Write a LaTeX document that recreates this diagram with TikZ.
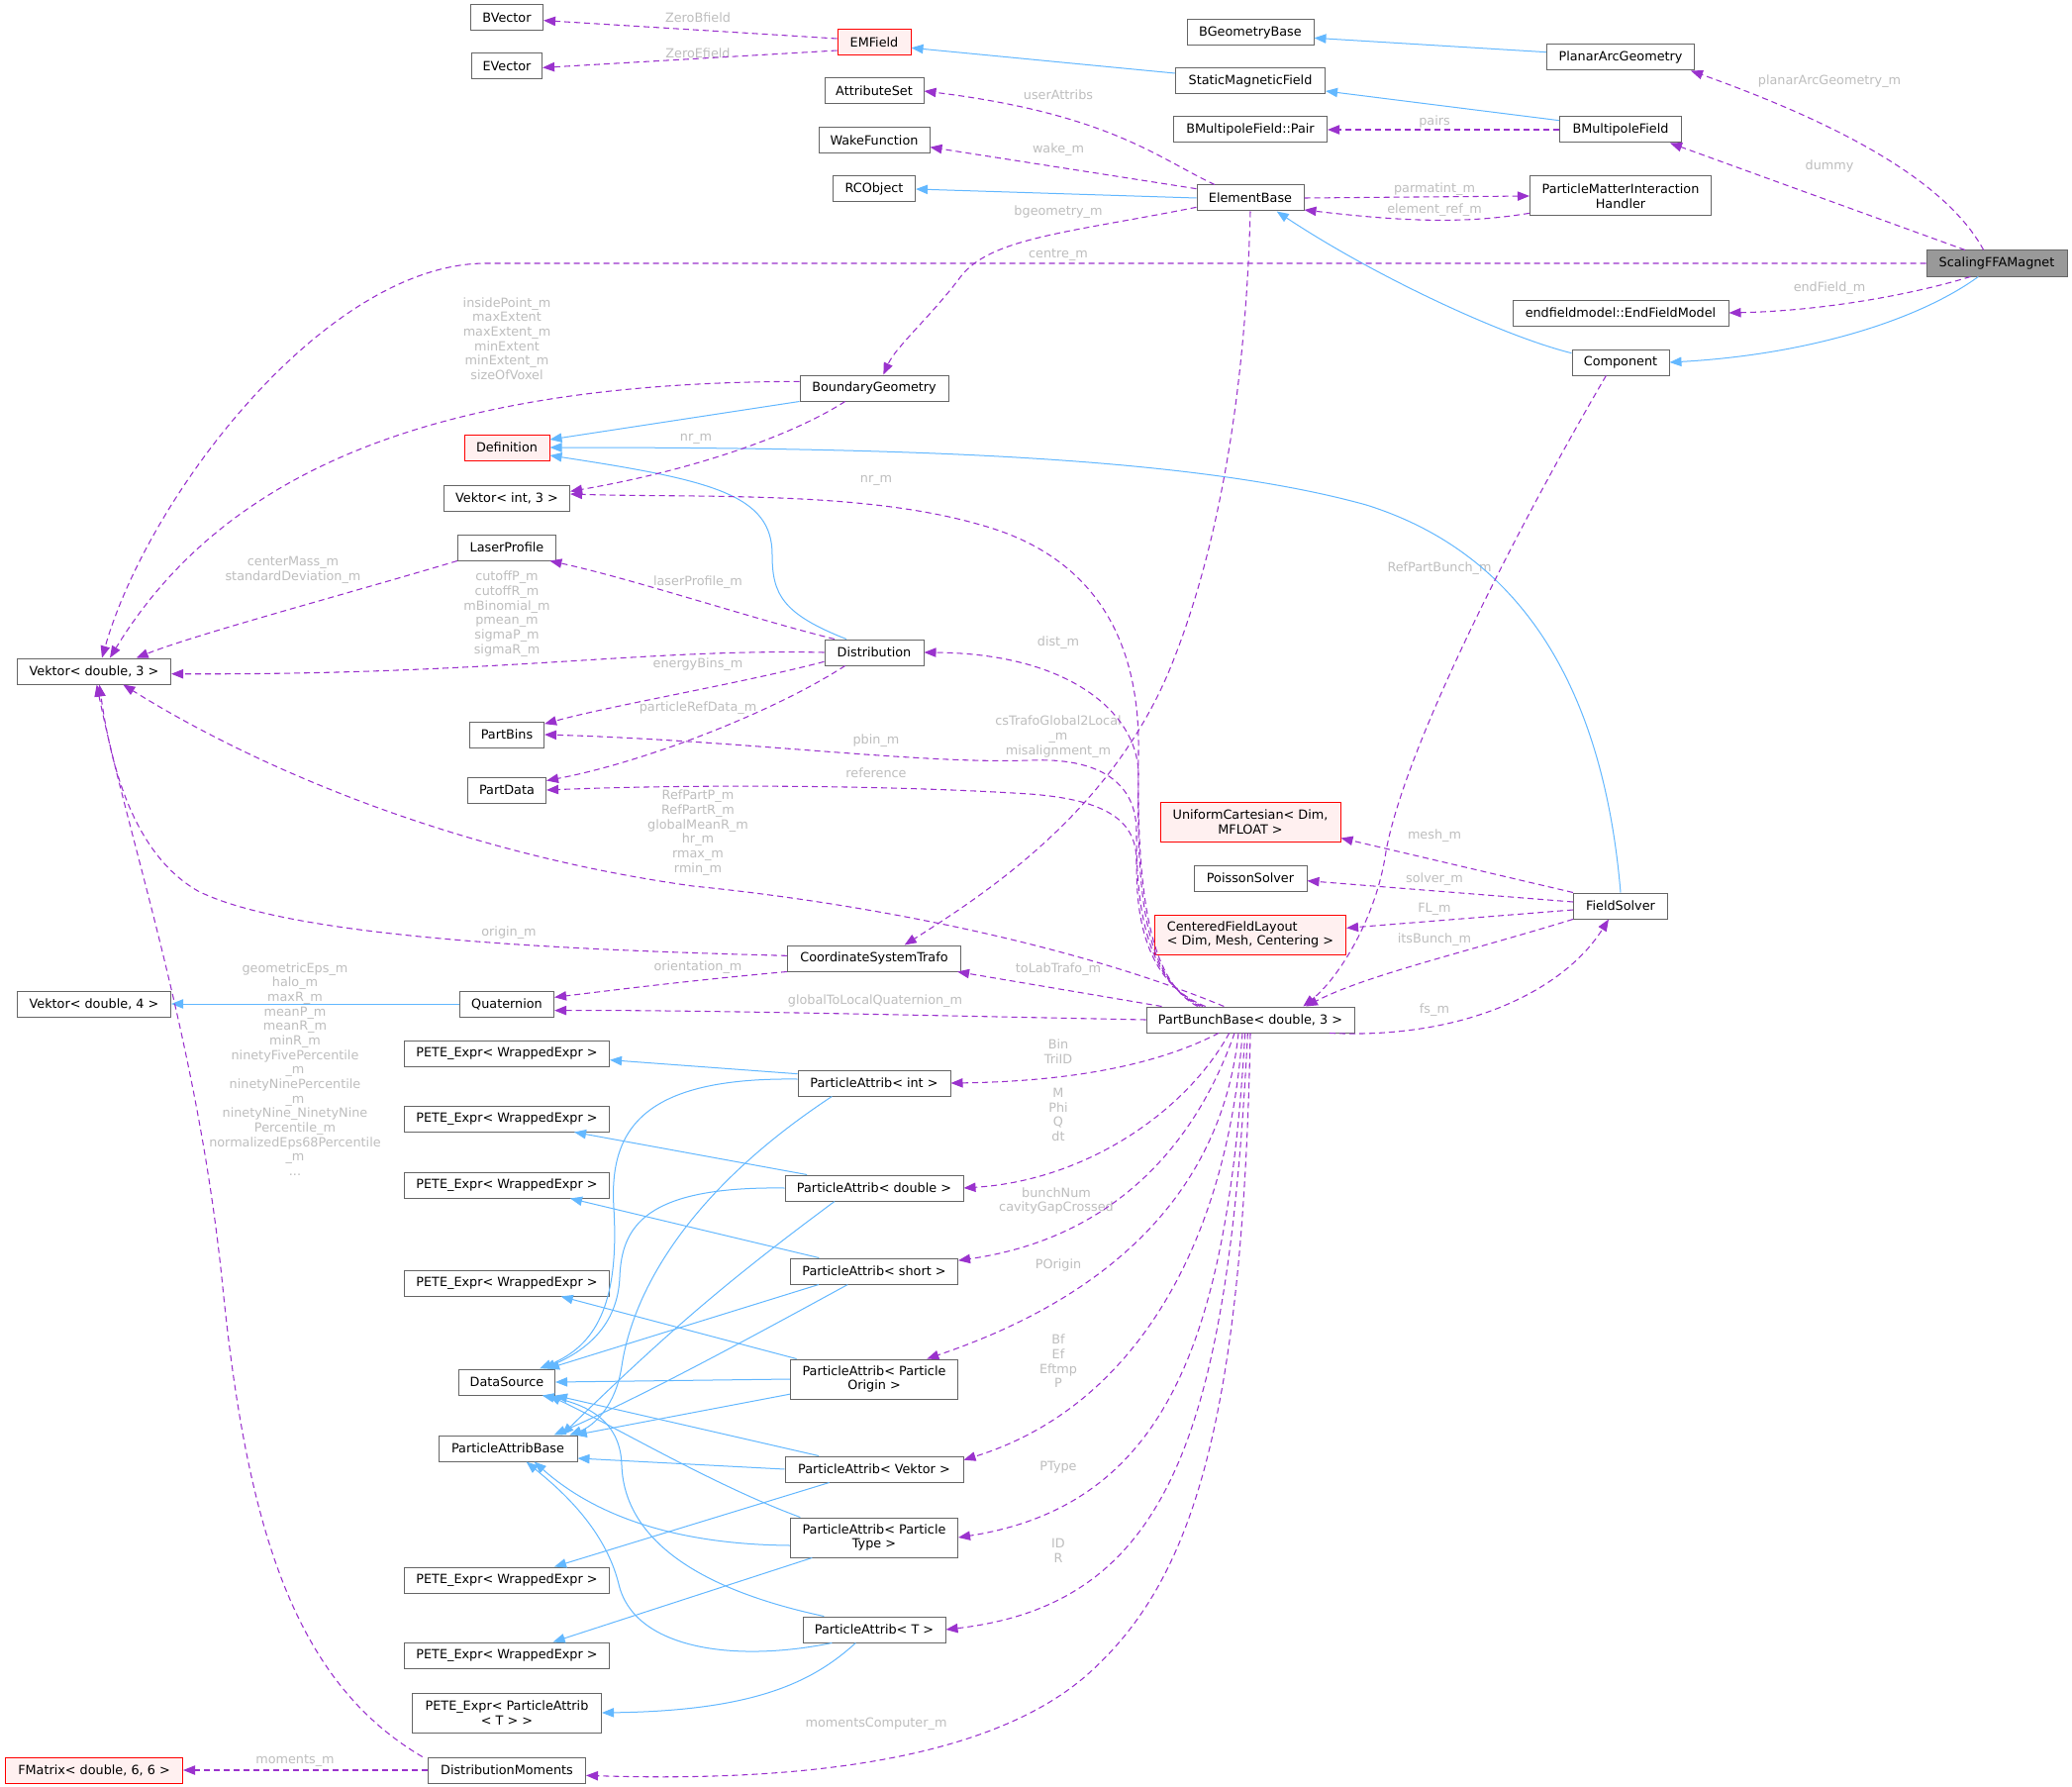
\documentclass[tikz,border=0pt]{standalone}
\usepackage{fontspec}
\setmainfont{DejaVu Sans}
\usepackage{tikz}
\usetikzlibrary{arrows.meta}
\definecolor{edgeblue}{RGB}{99,184,255}
\definecolor{edgepurple}{RGB}{154,50,205}
\definecolor{boxgray}{RGB}{102,102,102}
\definecolor{softred}{RGB}{255,240,240}
\definecolor{labelgray}{RGB}{190,190,190}
\definecolor{rootgray}{RGB}{153,153,153}

\begin{document}
\begin{tikzpicture}[x=0.75pt, y=-0.75pt, font=\fontsize{9.6}{11}\selectfont]
\tikzstyle{cls}=[draw=boxgray, fill=white, line width=0.75pt, minimum height=19.5pt, inner xsep=3pt, inner ysep=1pt, align=center]
\tikzstyle{bad}=[cls, draw=red, fill=softred]
\tikzstyle{root}=[cls, fill=rootgray]
\tikzstyle{lb}=[text=labelgray, inner sep=0pt, align=center]
\tikzstyle{inh}=[-{Triangle[length=9pt,width=7pt]}, draw=edgeblue, line width=0.75pt]
\tikzstyle{usg}=[-{Triangle[length=9pt,width=7pt]}, draw=edgepurple, line width=0.8pt, dash pattern=on 4.5pt off 3pt]
\path[use as bounding box, fill=white] (0,0) rectangle (2093,1805);

% classes
\node[cls, minimum width=54.8pt] (bvector) at (512,18) {BVector};
\node[cls, minimum width=53.3pt] (evector) at (512,67) {EVector};
\node[bad, minimum width=55.5pt] (emfield) at (883,43) {EMField};
\node[cls, minimum width=96pt] (bgeombase) at (1263,33) {BGeometryBase};
\node[cls, minimum width=113.3pt] (staticfield) at (1263,82) {StaticMagneticField};
\node[cls, minimum width=116.3pt] (pair) at (1263,131) {BMultipoleField::Pair};
\node[cls, minimum width=75pt] (attrset) at (883,92) {AttributeSet};
\node[cls, minimum width=84pt] (wakefn) at (883,142) {WakeFunction};
\node[cls, minimum width=62.3pt] (rcobject) at (883,191) {RCObject};
\node[cls, minimum width=81pt] (elembase) at (1263,200) {ElementBase};
\node[cls, minimum width=112.5pt] (boundgeom) at (883,392) {BoundaryGeometry};
\node[cls, minimum width=111.8pt] (planararc) at (1637,58) {PlanarArcGeometry};
\node[cls, minimum width=92.3pt] (bmultipole) at (1637,131) {BMultipoleField};
\node[cls, minimum width=137.3pt, minimum height=30pt] (parmatint) at (1637,198) {ParticleMatterInteraction\\Handler};
\node[root, minimum width=106.5pt] (magnet) at (2017,266) {ScalingFFAMagnet};
\node[cls, minimum width=163.5pt] (endfield) at (1637,316) {endfieldmodel::EndFieldModel};
\node[cls, minimum width=73.5pt] (component) at (1637,366) {Component};
\node[bad, minimum width=64.5pt] (definition) at (512,452) {Definition};
\node[cls, minimum width=95.3pt] (vekint) at (512,503) {Vektor< int, 3 >};
\node[cls, minimum width=74.3pt] (laser) at (512,553) {LaserProfile};
\node[cls, minimum width=116.3pt] (vekdbl) at (95,678) {Vektor< double, 3 >};
\node[cls, minimum width=56.3pt] (partbins) at (512,742) {PartBins};
\node[cls, minimum width=59.3pt] (partdata) at (512,798) {PartData};
\node[cls, minimum width=116.3pt] (vekfour) at (95,1014) {Vektor< double, 4 >};
\node[cls, minimum width=71.3pt] (quaternion) at (512,1014) {Quaternion};
\foreach \i/\y in {1/1064,2/1130,3/1197,4/1296,5/1596,6/1672}
  \node[cls, minimum width=155.3pt] (pete\i) at (512,\y) {PETE\_Expr< WrappedExpr >};
\node[cls, minimum width=72.8pt] (datasource) at (512,1396) {DataSource};
\node[cls, minimum width=105pt] (pabase) at (513,1463) {ParticleAttribBase};
\node[cls, minimum width=143.3pt, minimum height=30pt] (petet) at (512,1730) {PETE\_Expr< ParticleAttrib\\< T > >};
\node[cls, minimum width=119.3pt] (moments) at (512,1788) {DistributionMoments};
\node[bad, minimum width=134.3pt] (fmatrix) at (95,1788) {FMatrix< double, 6, 6 >};
\node[cls, minimum width=75pt] (distrib) at (883,659) {Distribution};
\node[bad, minimum width=136.5pt, minimum height=30pt] (unicart) at (1263,830) {UniformCartesian< Dim,\\MFLOAT >};
\node[cls, minimum width=85.5pt] (poisson) at (1263,887) {PoissonSolver};
\node[bad, minimum width=144.8pt, minimum height=30pt, align=left] (layout) at (1263,944) {CenteredFieldLayout\\< Dim, Mesh, Centering >};
\node[cls, minimum width=131.3pt] (cstrafo) at (883,968) {CoordinateSystemTrafo};
\node[cls, minimum width=157.5pt] (bunch) at (1263,1030) {PartBunchBase< double, 3 >};
\node[cls, minimum width=115.5pt] (pint) at (883,1094) {ParticleAttrib< int >};
\node[cls, minimum width=135pt] (pdouble) at (883,1200) {ParticleAttrib< double >};
\node[cls, minimum width=126.8pt] (pshort) at (883,1284) {ParticleAttrib< short >};
\node[cls, minimum width=126.8pt, minimum height=30pt] (porigin) at (883,1393) {ParticleAttrib< Particle\\Origin >};
\node[cls, minimum width=135pt] (pvektor) at (883,1484) {ParticleAttrib< Vektor >};
\node[cls, minimum width=126.8pt, minimum height=30pt] (ptype) at (883,1553) {ParticleAttrib< Particle\\Type >};
\node[cls, minimum width=108pt] (pt) at (883,1646) {ParticleAttrib< T >};
\node[cls, minimum width=71.3pt] (fieldsolver) at (1637,915) {FieldSolver};

% edge labels
\node[lb] (lzerob) at (705,18) {ZeroBfield};
\node[lb] (lzeroe) at (705,54) {ZeroEfield};
\node[lb] (luser) at (1069,96) {userAttribs};
\node[lb] (lwake) at (1069,151) {wake\_m};
\node[lb] (lbgeom) at (1069,214) {bgeometry\_m};
\node[lb] (lcentre) at (1069,258) {centre\_m};
\node[lb] (lpairs) at (1449,123) {pairs};
\node[lb] (lparmat) at (1449,191) {parmatint\_m};
\node[lb] (lelemref) at (1449,212) {element\_ref\_m};
\node[lb] (lplanar) at (1848,82) {planarArcGeometry\_m};
\node[lb] (ldummy) at (1848,168) {dummy};
\node[lb] (lendfield) at (1848,291) {endField\_m};
\node[lb] (lrefpart) at (1454,574) {RefPartBunch\_m};
\node[lb] (lextent) at (512,342) {insidePoint\_m\\maxExtent\\maxExtent\_m\\minExtent\\minExtent\_m\\sizeOfVoxel};
\node[lb] (lnrgeom) at (703,443) {nr\_m};
\node[lb] (lnrbunch) at (885,485) {nr\_m};
\node[lb] (lcenter) at (296,576) {centerMass\_m\\standardDeviation\_m};
\node[lb] (lcutoff) at (512,620) {cutoffP\_m\\cutoffR\_m\\mBinomial\_m\\pmean\_m\\sigmaP\_m\\sigmaR\_m};
\node[lb] (llaser) at (705,588) {laserProfile\_m};
\node[lb] (lenergy) at (705,671) {energyBins\_m};
\node[lb] (lrefdata) at (705,715) {particleRefData\_m};
\node[lb] (ldist) at (1069,649) {dist\_m};
\node[lb] (lcstrafo) at (1069,744) {csTrafoGlobal2Local\\\_m\\misalignment\_m};
\node[lb] (lpbin) at (885,748) {pbin\_m};
\node[lb] (lreference) at (885,781) {reference};
\node[lb] (lrefp) at (705,841) {RefPartP\_m\\RefPartR\_m\\globalMeanR\_m\\hr\_m\\rmax\_m\\rmin\_m};
\node[lb] (lmesh) at (1449,844) {mesh\_m};
\node[lb] (lsolver) at (1449,888) {solver\_m};
\node[lb] (lfl) at (1449,918) {FL\_m};
\node[lb] (lbunch) at (1449,949) {itsBunch\_m};
\node[lb] (lfs) at (1449,1020) {fs\_m};
\node[lb] (lorigin) at (514,942) {origin\_m};
\node[lb] (lorient) at (705,977) {orientation\_m};
\node[lb] (llab) at (1069,979) {toLabTrafo\_m};
\node[lb] (lquat) at (884,1011) {globalToLocalQuaternion\_m};
\node[lb] (lgeom) at (298,1080) {geometricEps\_m\\halo\_m\\maxR\_m\\meanP\_m\\meanR\_m\\minR\_m\\ninetyFivePercentile\\\_m\\ninetyNinePercentile\\\_m\\ninetyNine\_NinetyNine\\Percentile\_m\\normalizedEps68Percentile\\\_m\\...};
\node[lb] (lbin) at (1069,1062) {Bin\\TriID};
\node[lb] (lmass) at (1069,1126) {M\\Phi\\Q\\dt};
\node[lb] (lbunchnum) at (1067,1213) {bunchNum\\cavityGapCrossed};
\node[lb] (lporigin) at (1069,1278) {POrigin};
\node[lb] (lfields) at (1069,1375) {Bf\\Ef\\Eftmp\\P};
\node[lb] (lptype) at (1069,1482) {PType};
\node[lb] (lid) at (1069,1566) {ID\\R};
\node[lb] (lmomcomp) at (885,1741) {momentsComputer\_m};
\node[lb] (lmoments) at (298,1779) {moments\_m};

% inheritance
\draw[inh] ([yshift=6pt]staticfield.west) -- ([yshift=-4pt]emfield.east);
\draw[inh] ([yshift=4pt]planararc.west) -- ([yshift=-4pt]bgeombase.east);
\draw[inh] ([yshift=7pt]bmultipole.west) -- ([yshift=-7.5pt]staticfield.east);
\draw[inh] (elembase.west) -- (rcobject.east);
\draw[inh] ([yshift=7pt]component.west) .. controls (1520,340) and (1390,280) .. ([xshift=20pt]elembase.south);
\draw[inh] ([xshift=-14pt]magnet.south) .. controls (1940,322) and (1830,358) .. (component.east);
\draw[inh] (boundgeom.south west) -- ([yshift=6pt]definition.east);
\draw[inh] (fieldsolver.north) .. controls (1620,700) and (1540,560) .. (1380,510) .. controls (1200,460) and (900,452) .. (definition.east);
\draw[inh] ([xshift=-21pt]distrib.north) .. controls (790,620) and (780,600) .. (780,560) .. controls (780,500) and (720,485) .. ([yshift=-6pt]definition.east);
\draw[inh] (quaternion.west) -- (vekfour.east);
\draw[inh] ([yshift=7pt]pint.west) -- ([yshift=-5pt]pete1.east);
\draw[inh] ([xshift=17pt]pdouble.north west) -- ([xshift=-27pt]pete2.south east);
\draw[inh] ([xshift=22pt]pshort.north west) -- ([xshift=-30pt]pete3.south east);
\draw[inh] ([xshift=5pt]porigin.north west) -- ([xshift=-37pt]pete4.south east);
\draw[inh] ([xshift=-34pt]pvektor.south) -- ([xshift=-42pt]pete5.north east);
\draw[inh] ([xshift=-47pt]ptype.south) -- ([xshift=-43pt]pete6.north east);
\draw[inh] ([xshift=-14pt]pt.south) .. controls (820,1700) and (760,1728) .. (petet.east);
\draw[inh] ([yshift=3pt]pint.west) .. controls (650,1088) and (615,1140) .. (620,1220) .. controls (626,1320) and (600,1360) .. ([xshift=-12pt]datasource.north east);
\draw[inh] (pdouble.west) .. controls (650,1198) and (628,1240) .. (626,1290) .. controls (624,1340) and (590,1365) .. ([xshift=-9pt]datasource.north east);
\draw[inh] ([xshift=-42pt]pshort.south) -- ([xshift=-6pt]datasource.north east);
\draw[inh] (porigin.west) -- (datasource.east);
\draw[inh] ([xshift=-42pt]pvektor.north) -- (datasource.south east);
\draw[inh] ([xshift=-56pt]ptype.north) .. controls (720,1500) and (620,1440) .. ([xshift=-5pt]datasource.south east);
\draw[inh] ([xshift=-38pt]pt.north) .. controls (680,1600) and (630,1540) .. (628,1480) .. controls (627,1440) and (600,1420) .. ([xshift=-10pt]datasource.south east);
\draw[inh] ([xshift=-32pt]pint.south) .. controls (700,1200) and (640,1300) .. (628,1380) .. controls (622,1420) and (600,1440) .. ([xshift=-6pt]pabase.north east);
\draw[inh] ([xshift=-30pt]pdouble.south) .. controls (740,1290) and (680,1340) .. ([xshift=-12pt]pabase.north east);
\draw[inh] ([xshift=-20pt]pshort.south) .. controls (760,1350) and (650,1410) .. ([xshift=-18pt]pabase.north east);
\draw[inh] ([yshift=4pt]porigin.south west) -- ([xshift=-2pt]pabase.north east);
\draw[inh] (pvektor.west) -- ([yshift=-7.5pt]pabase.east);
\draw[inh] ([yshift=-6pt]ptype.west) .. controls (680,1560) and (600,1530) .. ([xshift=20pt]pabase.south);
\draw[inh] ([xshift=-32pt]pt.south) .. controls (740,1680) and (640,1665) .. (625,1600) .. controls (610,1540) and (560,1500) .. ([xshift=14pt]pabase.south);

% usage
\draw[usg] ([yshift=3pt]emfield.west) -- ([yshift=-2pt]bvector.east);
\draw[usg] ([yshift=-6pt]emfield.west) -- ([yshift=-1pt]evector.east);
\draw[usg] ([xshift=-27pt]elembase.north) .. controls (1170,160) and (1120,115) .. (attrset.east);
\draw[usg] ([yshift=7pt]elembase.west) -- ([yshift=-5pt]wakefn.east);
\draw[usg] ([yshift=-7pt]elembase.west) .. controls (1080,235) and (1000,240) .. (970,280) .. controls (940,320) and (905,350) .. ([xshift=7pt]boundgeom.north);
\draw[usg] (elembase.east) -- (parmatint.west);
\draw[usg] ([yshift=-13pt]parmatint.west) .. controls (1480,226) and (1420,224) .. ([yshift=-9pt]elembase.east);
\draw[usg] (elembase.south) .. controls (1258,400) and (1230,560) .. (1180,680) .. controls (1120,820) and (1000,900) .. ([xshift=23pt]cstrafo.north);
\draw[usg] (bmultipole.west) -- (pair.east);
\draw[usg] ([xshift=-10pt]magnet.north) .. controls (1975,200) and (1900,140) .. ([xshift=-3pt]planararc.south east);
\draw[usg] ([xshift=-24pt]magnet.north) -- ([xshift=-9pt]bmultipole.south east);
\draw[usg] (magnet.west) -- (491,266) .. controls (330,266) and (150,500) .. ([xshift=6pt]vekdbl.north);
\draw[usg] ([xshift=-20pt]magnet.south) .. controls (1930,298) and (1840,314) .. (endfield.east);
\draw[usg] ([xshift=-11pt]component.south) .. controls (1540,520) and (1420,750) .. (1400,860) .. controls (1390,930) and (1350,990) .. ([xshift=40pt]bunch.north);
\draw[usg] ([yshift=5pt]boundgeom.west) .. controls (450,386) and (230,470) .. ([xshift=12pt]vekdbl.north);
\draw[usg] ([xshift=-22pt]boundgeom.south) .. controls (800,440) and (700,475) .. ([yshift=5pt]vekint.east);
\draw[usg] ([xshift=-40pt]bunch.north) .. controls (1160,990) and (1148,900) .. (1150,760) .. controls (1152,640) and (1100,560) .. (990,530) .. controls (870,495) and (700,503) .. ([yshift=3pt]vekint.east);
\draw[usg] (laser.south west) .. controls (350,600) and (200,640) .. ([xshift=32pt]vekdbl.north);
\draw[usg] ([xshift=-30pt]distrib.north) .. controls (760,625) and (640,585) .. ([xshift=-5pt]laser.south east);
\draw[usg] (distrib.west) .. controls (650,655) and (500,682) .. ([yshift=-2pt]vekdbl.east);
\draw[usg] ([yshift=-7pt]distrib.west) .. controls (750,690) and (620,712) .. ([yshift=-2pt]partbins.north east);
\draw[usg] ([xshift=-22pt]distrib.south) .. controls (780,720) and (650,770) .. ([yshift=-3pt]partdata.north east);
\draw[usg] ([xshift=-38pt]bunch.north) .. controls (1155,990) and (1148,900) .. (1150,780) .. controls (1148,720) and (1080,660) .. (distrib.east);
\draw[usg] ([xshift=-36pt]bunch.north) .. controls (1152,990) and (1148,900) .. (1148,840) .. controls (1148,790) and (1110,765) .. (1040,768) .. controls (930,772) and (750,748) .. (partbins.east);
\draw[usg] ([xshift=-34pt]bunch.north) .. controls (1150,990) and (1148,910) .. (1148,870) .. controls (1148,830) and (1120,808) .. (1040,802) .. controls (900,793) and (700,792) .. (partdata.east);
\draw[usg] ([xshift=-20pt]bunch.north) .. controls (1100,960) and (900,915) .. (700,895) .. controls (450,860) and (250,770) .. ([xshift=22pt]vekdbl.south);
\draw[usg] (fieldsolver.north west) -- ([yshift=3pt]unicart.south east);
\draw[usg] ([yshift=3pt]fieldsolver.west) -- ([yshift=-2pt]poisson.east);
\draw[usg] ([yshift=-3pt]fieldsolver.west) -- ([yshift=5pt]layout.east);
\draw[usg] (fieldsolver.south west) .. controls (1480,962) and (1380,985) .. ([xshift=42pt]bunch.north);
\draw[usg] ([xshift=60pt]bunch.south) .. controls (1480,1050) and (1580,1000) .. ([xshift=-9pt]fieldsolver.south);
\draw[usg] ([yshift=2pt]cstrafo.west) .. controls (600,960) and (300,950) .. (200,900) .. controls (130,860) and (110,760) .. ([xshift=4pt]vekdbl.south);
\draw[usg] (cstrafo.south west) .. controls (700,990) and (620,1000) .. ([yshift=5pt]quaternion.east);
\draw[usg] ([xshift=12pt]bunch.north west) -- ([xshift=-3pt]cstrafo.south east);
\draw[usg] (bunch.west) .. controls (900,1025) and (700,1020) .. ([yshift=-5pt]quaternion.east);
\draw[usg] ([xshift=-24pt]bunch.south) .. controls (1180,1070) and (1100,1092) .. (pint.east);
\draw[usg] ([xshift=-16pt]bunch.south) .. controls (1200,1120) and (1100,1192) .. (pdouble.east);
\draw[usg] ([xshift=-12pt]bunch.south) .. controls (1210,1150) and (1130,1250) .. ([yshift=-2pt]pshort.north east);
\draw[usg] ([xshift=-9pt]bunch.south) .. controls (1240,1150) and (1180,1290) .. ([xshift=40pt]porigin.north);
\draw[usg] ([xshift=-6pt]bunch.south) .. controls (1240,1250) and (1150,1420) .. ([yshift=7pt]pvektor.east);
\draw[usg] ([xshift=-4pt]bunch.south) .. controls (1240,1350) and (1180,1520) .. (ptype.east);
\draw[usg] ([xshift=-2pt]bunch.south) .. controls (1240,1450) and (1180,1620) .. (pt.east);
\draw[usg] (bunch.south) .. controls (1255,1450) and (1200,1600) .. (1100,1690) .. controls (1000,1780) and (800,1800) .. ([yshift=-4pt]moments.east);
\draw[usg] ([xshift=-64pt]moments.north) .. controls (300,1700) and (250,1550) .. (225,1300) .. controls (200,1050) and (130,850) .. ([xshift=2pt]vekdbl.south);
\draw[usg] (moments.west) -- (fmatrix.east);
\end{tikzpicture}
\end{document}
